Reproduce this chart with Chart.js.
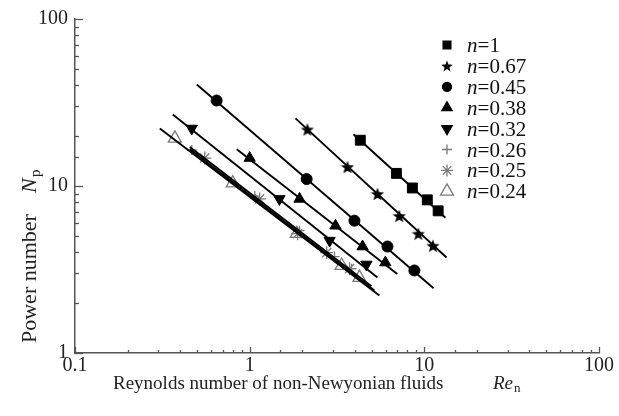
<!DOCTYPE html>
<html><head><meta charset="utf-8">
<script src="https://cdn.jsdelivr.net/npm/chart.js@4.4.1/dist/chart.umd.min.js"></script>
<style>html,body{margin:0;padding:0;background:#fff}#wrap{width:619px;height:416px;position:relative}</style>
</head><body><div id="wrap"><canvas id="c" width="619" height="416"></canvas></div>
<script>
// ---- data (Re_n, N_p) ----
const seriesLabels = ['1', '0.67', '0.45', '0.38', '0.32', '0.26', '0.25', '0.24'];

const re_n1 = [4.3, 6.92, 8.54, 10.4, 12.0];
const np_n1 = [18.8, 11.9, 9.73, 8.26, 7.1];
const re_n067 = [2.14, 3.63, 5.39, 7.19, 9.24, 11.2];
const np_n067 = [21.8, 13.0, 8.96, 6.62, 5.18, 4.39];
const re_n045 = [0.647, 2.12, 3.98, 6.15, 8.77];
const np_n045 = [32.5, 11.0, 6.2, 4.34, 3.12];
const re_n038 = [1.0, 1.93, 3.10, 4.43, 5.98];
const np_n038 = [14.7, 8.37, 5.78, 4.34, 3.48];
const re_n032 = [0.466, 1.48, 2.87, 4.66];
const np_n032 = [22.1, 8.37, 4.71, 3.39];
const re_n026 = [0.466, 1.07, 1.93, 3.06, 3.83];
const np_n026 = [16.4, 8.7, 5.4, 3.78, 3.2];
const re_n025 = [0.553, 1.14, 1.88, 2.76, 3.73];
const np_n025 = [14.7, 8.37, 5.18, 3.99, 3.2];
const re_n024 = [0.373, 0.80, 1.86, 3.36, 4.25];
const np_n024 = [19.3, 10.4, 5.18, 3.34, 2.83];

// fitted straight lines (end points)
const fitRe_n1 = [3.93, 13.2],   fitNp_n1 = [20.4, 6.46];
const fitRe_n067 = [1.83, 13.4], fitNp_n067 = [25.4, 3.73];
const fitRe_n045 = [0.498, 11.3], fitNp_n045 = [40.5, 2.44];
const fitRe_n038 = [0.843, 7.0],  fitNp_n038 = [16.6, 2.97];
const fitRe_n032 = [0.363, 5.39], fitNp_n032 = [26.8, 2.83];
const fitRe_n026 = [0.454, 4.98], fitNp_n026 = [17.1, 2.51];
const fitRe_n025 = [0.454, 5.18], fitNp_n025 = [16.6, 2.37];
const fitRe_n024 = [0.306, 5.53], fitNp_n024 = [22.1, 2.21];

const xTickLabels = ['0.1', '1', '10', '100'];
const yTickLabels = ['1', '10', '100'];

// ---- styling ----
const GRAY = '#7a7a7a';
const SERIF = '"Liberation Serif", "Times New Roman", serif';

function makeStar(size) {
  const c = document.createElement('canvas');
  c.width = size; c.height = size;
  const g = c.getContext('2d');
  const cx = size / 2, cy = size / 2 + size * 0.05, R = size / 2, r = R * 0.42;
  g.beginPath();
  for (let i = 0; i < 10; i++) {
    const a = -Math.PI / 2 + i * Math.PI / 5;
    const rr = i % 2 === 0 ? R : r;
    g.lineTo(cx + rr * Math.cos(a), cy + rr * Math.sin(a));
  }
  g.closePath();
  g.fillStyle = '#000';
  g.fill();
  return c;
}
const starBig = makeStar(14);
const starSmall = makeStar(12);

const pts = (xs, ys) => xs.map((x, i) => ({x: x, y: ys[i]}));

const markerStyles = [
  {pointStyle: 'rect', radius: 7, rotation: 0, fill: '#000', stroke: '#000', bw: 1, gray: false, lg: 5.5},
  {pointStyle: starBig, radius: 7, rotation: 0, fill: '#000', stroke: '#000', bw: 0, gray: false, lg: 6, legendImg: starSmall},
  {pointStyle: 'circle', radius: 5.5, rotation: 0, fill: '#000', stroke: '#000', bw: 1, gray: false, lg: 4.5},
  {pointStyle: 'triangle', radius: 6.5, rotation: 0, fill: '#000', stroke: '#000', bw: 1, gray: false, lg: 6},
  {pointStyle: 'triangle', radius: 6.5, rotation: 180, fill: '#000', stroke: '#000', bw: 1, gray: false, lg: 6},
  {pointStyle: 'cross', radius: 5, rotation: 0, fill: GRAY, stroke: GRAY, bw: 1.3, gray: true, lg: 5},
  {pointStyle: 'star', radius: 6.5, rotation: 0, fill: GRAY, stroke: GRAY, bw: 1.3, gray: true, lg: 6},
  {pointStyle: 'triangle', radius: 7.5, rotation: 0, fill: 'rgba(255,255,255,0)', stroke: GRAY, bw: 1.3, gray: true, lg: 7.5}
];

const markerData = [
  [re_n1, np_n1], [re_n067, np_n067], [re_n045, np_n045], [re_n038, np_n038],
  [re_n032, np_n032], [re_n026, np_n026], [re_n025, np_n025], [re_n024, np_n024]
];
const fitData = [
  [fitRe_n1, fitNp_n1], [fitRe_n067, fitNp_n067], [fitRe_n045, fitNp_n045], [fitRe_n038, fitNp_n038],
  [fitRe_n032, fitNp_n032], [fitRe_n026, fitNp_n026], [fitRe_n025, fitNp_n025], [fitRe_n024, fitNp_n024]
];

const datasets = [];
fitData.forEach((f, i) => {
  datasets.push({
    label: 'fit n=' + seriesLabels[i],
    data: pts(f[0], f[1]),
    showLine: true, pointRadius: 0, borderColor: '#000', borderWidth: 1.9,
    order: 1
  });
});
markerData.forEach((m, i) => {
  const s = markerStyles[i];
  datasets.push({
    label: 'n=' + seriesLabels[i],
    data: pts(m[0], m[1]),
    showLine: false,
    pointStyle: s.pointStyle, pointRadius: s.radius, pointRotation: s.rotation,
    backgroundColor: s.fill, borderColor: s.stroke, borderWidth: s.bw,
    order: s.gray ? 2 : 0
  });
});

const isPow10 = v => Math.abs(Math.log10(v) - Math.round(Math.log10(v))) < 1e-6;

// inward tick marks, axis titles and legend
const decorPlugin = {
  id: 'decor',
  afterDraw(chart) {
    const ctx = chart.ctx;
    const xs = chart.scales.x, ys = chart.scales.y;
    const a = chart.chartArea;
    ctx.save();
    ctx.strokeStyle = '#555';
    ctx.lineWidth = 1.3;
    xs.ticks.forEach(t => {
      const px = Math.round(xs.getPixelForValue(t.value)) + 0.5;
      const len = isPow10(t.value) ? 6 : 3;
      ctx.beginPath(); ctx.moveTo(px, a.bottom); ctx.lineTo(px, a.bottom - len); ctx.stroke();
    });
    ys.ticks.forEach(t => {
      const py = Math.round(ys.getPixelForValue(t.value)) + 0.5;
      const len = isPow10(t.value) ? 8 : 4;
      ctx.beginPath(); ctx.moveTo(a.left, py); ctx.lineTo(a.left + len, py); ctx.stroke();
    });

    // x title
    ctx.fillStyle = '#222';
    ctx.textBaseline = 'alphabetic';
    ctx.textAlign = 'left';
    ctx.font = '19px ' + SERIF;
    ctx.fillText('Reynolds number of non-Newyonian fluids', 113, 389);
    ctx.font = 'italic 19px ' + SERIF;
    ctx.fillText('Re', 493, 389);
    ctx.font = '13px ' + SERIF;
    ctx.fillText('n', 514, 392);

    // y title
    ctx.save();
    ctx.translate(36, 343);
    ctx.rotate(-Math.PI / 2);
    ctx.font = '22px ' + SERIF;
    ctx.fillText('Power number', 0, 0);
    ctx.font = 'italic 22px ' + SERIF;
    ctx.fillText('N', 150, 0);
    ctx.font = '15px ' + SERIF;
    ctx.fillText('p', 166, 4);
    ctx.restore();

    // legend
    const mx = 447, tx = 467, y0 = 45, dy = 20.9;
    markerStyles.forEach((s, i) => {
      const cy = y0 + i * dy;
      ctx.fillStyle = s.fill; ctx.strokeStyle = s.stroke;
      Chart.helpers.drawPoint(ctx, {
        pointStyle: s.legendImg || s.pointStyle, radius: s.lg, rotation: s.rotation,
        borderWidth: s.bw
      }, mx, cy);
      ctx.fillStyle = '#111';
      ctx.font = 'italic 21px ' + SERIF;
      ctx.fillText('n', tx, cy + 7);
      ctx.font = '21px ' + SERIF;
      ctx.fillText('=', tx + 10.5, cy + 7);
      ctx.fillText(seriesLabels[i], tx + 22.5, cy + 7);
    });
    ctx.restore();
  }
};

new Chart(document.getElementById('c'), {
  type: 'scatter',
  data: {datasets: datasets},
  options: {
    responsive: false, animation: false,
    layout: {padding: {top: 17, right: 20, left: 0, bottom: 0}},
    plugins: {legend: {display: false}, tooltip: {enabled: false}},
    scales: {
      x: {
        type: 'logarithmic', min: 0.1, max: 100,
        grid: {display: false, drawTicks: false},
        border: {display: true, color: '#555', width: 1.5},
        ticks: {
          autoSkip: false, maxRotation: 0, minRotation: 0, padding: 1,
          color: '#222', font: {family: SERIF, size: 20},
          callback: v => { const s = String(+v.toPrecision(6)); return xTickLabels.includes(s) ? s : ''; }
        },
        afterFit: s => { s.height = 63; }
      },
      y: {
        type: 'logarithmic', min: 1, max: 100,
        grid: {display: false, drawTicks: false},
        border: {display: true, color: '#555', width: 1.5},
        ticks: {
          autoSkip: false, padding: 7,
          color: '#222', font: {family: SERIF, size: 20},
          callback: v => { const s = String(+v.toPrecision(6)); return yTickLabels.includes(s) ? s : ''; }
        },
        afterFit: s => { s.width = 75; }
      }
    }
  },
  plugins: [decorPlugin]
});
</script>
</body></html>
